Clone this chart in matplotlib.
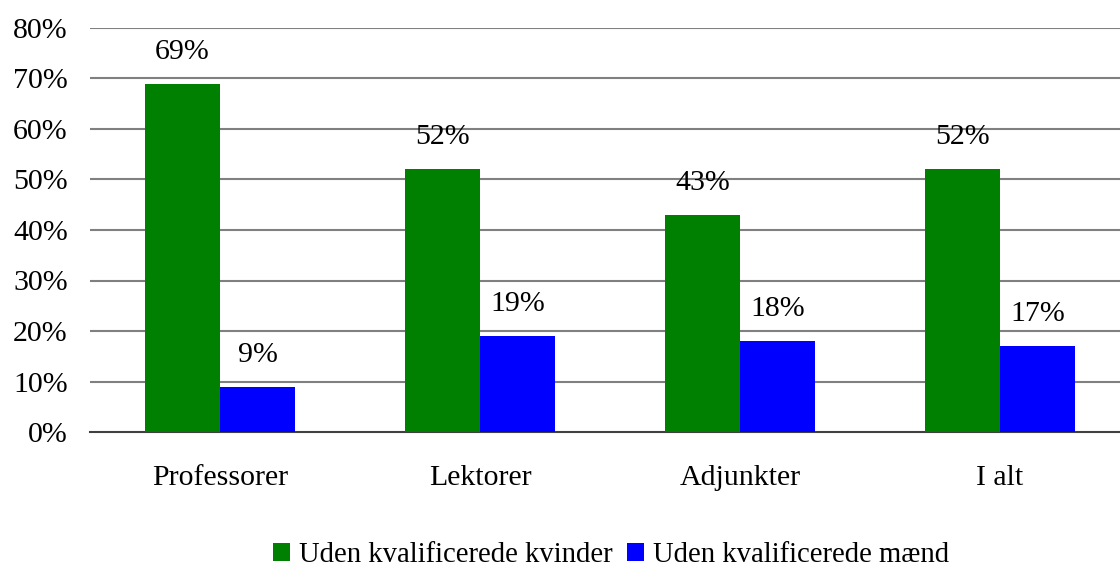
import matplotlib
matplotlib.use("Agg")
import matplotlib.pyplot as plt
import numpy as np

categories = ["Professorer", "Lektorer", "Adjunkter", "I alt"]
women = [69, 52, 43, 52]
men = [9, 19, 18, 17]
series_names = ["Uden kvalificerede kvinder", "Uden kvalificerede mænd"]
yticks = [0, 10, 20, 30, 40, 50, 60, 70, 80]

plt.rcParams['font.family'] = ['Liberation Serif', 'DejaVu Serif']
FS = 21.5
W, H = 1120, 567
fig = plt.figure(figsize=(W/100, H/100), dpi=100)
ax = fig.add_axes([90/W, 1-432/H, (W-90)/W, (432-28)/H])

x = np.arange(len(categories))
bw = 0.29
b1 = ax.bar(x - bw/2, women, bw, color="#008000", zorder=3, label=series_names[0])
b2 = ax.bar(x + bw/2, men, bw, color="#0000FF", zorder=3, label=series_names[1])

for rects, vals in ((b1, women), (b2, men)):
    for r, v in zip(rects, vals):
        ax.annotate(f"{v}%", (r.get_x() + r.get_width()/2, v), xytext=(0, 23),
                    textcoords="offset points", ha="center", va="center", fontsize=FS)

ax.set_ylim(0, 80)
ax.set_xlim(-0.5, -0.5 + (W-90)/260)
ax.set_yticks(yticks)
ax.set_yticklabels([f"{t}%" for t in yticks], fontsize=FS)
ax.set_xticks(x)
ax.set_xticklabels(categories, fontsize=FS)
ax.tick_params(axis='y', length=0, pad=16)
ax.tick_params(axis='x', length=0, pad=24)
for t in yticks[1:]:
    ax.axhline(t, color="#808080", lw=1.5, zorder=1)
for s in ["top", "right", "left"]:
    ax.spines[s].set_visible(False)
ax.spines["bottom"].set_color("#404040")
ax.spines["bottom"].set_linewidth(1.5)

fig.legend(handles=[b1, b2], labels=series_names, loc="center", bbox_to_anchor=(611/W, 1-555/H),
           ncol=2, frameon=False, fontsize=20.6, handlelength=0.6, handleheight=0.6,
           handletextpad=0.3, columnspacing=0.5, borderpad=0)

fig.savefig("out.png", dpi=100)
